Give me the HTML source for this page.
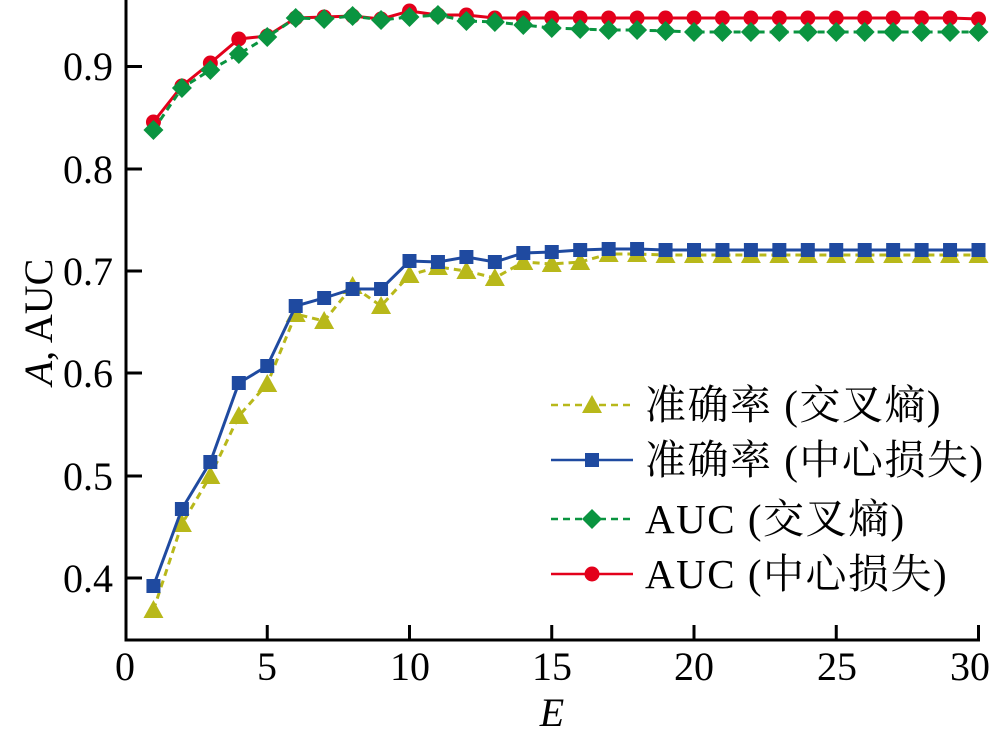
<!DOCTYPE html>
<html><head><meta charset="utf-8"><style>
body{margin:0;background:#fff}
svg text{font-family:"Liberation Serif","Noto Serif CJK SC",serif;fill:#000}
</style></head><body>
<svg id="c" width="1000" height="742" xmlns="http://www.w3.org/2000/svg">
<g stroke="#000" stroke-width="3" fill="none">
<path d="M126,0 V640 H980"/>
</g>
<g id="ticks" stroke="#000" stroke-width="3"></g>
<g font-size="40" text-anchor="end">
<text x="113" y="80">0.9</text>
<text x="113" y="183">0.8</text>
<text x="113" y="285">0.7</text>
<text x="113" y="387">0.6</text>
<text x="113" y="490">0.5</text>
<text x="113" y="592">0.4</text>
</g>
<g font-size="40" text-anchor="middle">
<text x="125" y="680">0</text>
<text x="267" y="680">5</text>
<text x="410" y="680">10</text>
<text x="552" y="680">15</text>
<text x="694" y="680">20</text>
<text x="837" y="680">25</text>
<text x="970" y="680">30</text>
<text x="552" y="726" font-style="italic">E</text>
</g>
<text font-size="40" transform="translate(52,322) rotate(-90)" text-anchor="middle"><tspan font-style="italic">A</tspan>, AUC</text>
<g id="series"></g>
<g font-size="41" letter-spacing="1.5">
<text x="645" y="419">准确率 (交叉熵)</text>
<text x="645" y="474">准确率 (中心损失)</text>
<text x="645" y="533">AUC (交叉熵)</text>
<text x="645" y="588">AUC (中心损失)</text>
</g>
</svg>
<script>
function X(i){return 125+28.45*i}
var t=document.getElementById('ticks'),s='';
[66.5,169,271,373,476,578].forEach(function(y){s+='<line x1="126" y1="'+y+'" x2="142" y2="'+y+'"/>'});
[5,10,15,20,25,30].forEach(function(i){s+='<line x1="'+X(i)+'" y1="640" x2="'+X(i)+'" y2="625"/>'});
t.innerHTML=s;
var yel=[610,524,476,416,384,314,321,286,306,275,267,271,278,262,264,262,254,254,255,255,255,255,255,255,255,255,255,255,255,255];
var blu=[586,509,462,383,366,306,298,289,289,261,262,257,262,253,252,250,249,249,250,250,250,250,250,250,250,250,250,250,250,250];
var grn=[130,88,70,54,37,18,19,16,20,17,15,21,22,25,28,29,30,30,31,32,32,32,32,32,32,32,32,32,32,32];
var red=[122,86,63,39,36,18,17,16,19,11,15,15,18,18,18,18,18,18,18,18,18,18,18,18,18,18,18,18,18,19];
function mk(type,x,y,c){
 if(type=='tri')return '<polygon points="'+x+','+(y-10)+' '+(x-10)+','+(y+8)+' '+(x+10)+','+(y+8)+'" fill="'+c+'"/>';
 if(type=='sq')return '<rect x="'+(x-7)+'" y="'+(y-7)+'" width="14" height="14" fill="'+c+'"/>';
 if(type=='dia')return '<polygon points="'+x+','+(y-10)+' '+(x+10)+','+y+' '+x+','+(y+10)+' '+(x-10)+','+y+'" fill="'+c+'"/>';
 return '<circle cx="'+x+'" cy="'+y+'" r="7.5" fill="'+c+'"/>';
}
function ser(d,c,dash,type){
 var p=d.map(function(y,i){return X(i+1)+','+y}).join(' ');
 var o='<polyline points="'+p+'" fill="none" stroke="'+c+'" stroke-width="3"'+(dash?' stroke-dasharray="7,5"':'')+'/>';
 d.forEach(function(y,i){o+=mk(type,X(i+1),y,c)});
 return o;
}
var o='';
o+=ser(yel,'#b8b81a',1,'tri');
o+=ser(blu,'#1f4aa0',0,'sq');
o+=ser(red,'#e3001b',0,'circ');
o+=ser(grn,'#0a9440',1,'dia');
var L=[[405,'#b8b81a',1,'tri'],[460,'#1f4aa0',0,'sq'],[519,'#0a9440',1,'dia'],[574,'#e3001b',0,'circ']];
L.forEach(function(l){o+='<line x1="551" x2="633" y1="'+l[0]+'" y2="'+l[0]+'" stroke="'+l[1]+'" stroke-width="2.5"'+(l[2]?' stroke-dasharray="7,5"':'')+'/>'+mk(l[3],592,l[0],l[1])});
document.getElementById('series').innerHTML=o;
</script>
</body></html>
